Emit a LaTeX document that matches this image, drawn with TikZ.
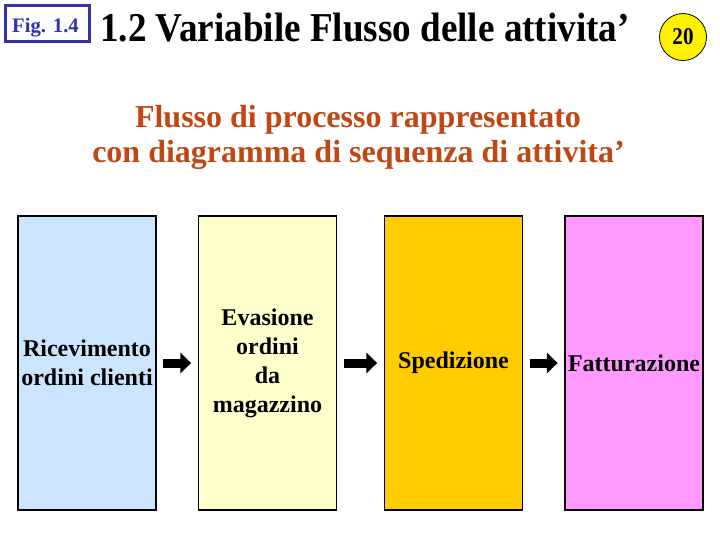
\documentclass[tikz,border=0pt]{standalone}
\usepackage{fontspec}
\setmainfont{Liberation Serif}
\newfontfamily\narrowfont[FakeStretch=0.88]{Liberation Serif}
\newfontfamily\titlefont[FakeStretch=0.905]{Liberation Serif}
\usepackage{xcolor}
\usepackage{tikz}
\usetikzlibrary{arrows.meta}
\definecolor{figblue}{RGB}{51,51,170}
\definecolor{subred}{RGB}{192,70,20}
\definecolor{boxblue}{RGB}{204,229,255}
\definecolor{boxcream}{RGB}{255,255,204}
\definecolor{boxgold}{RGB}{255,204,0}
\definecolor{boxpink}{RGB}{255,153,255}
\begin{document}
\begin{tikzpicture}[x=0.75pt,y=-0.75pt,
	stepbox/.style={draw=black,line width=1.1pt,minimum width=103.5pt,minimum height=220.5pt,inner sep=0pt,align=center,font=\fontsize{18}{21.75}\selectfont\bfseries},
	blockarrow/.style={-{Triangle[length=8pt,width=15pt]},line width=6.75pt,shorten <=5pt,shorten >=5pt}]
		\useasboundingbox (0,0) rectangle (720,540);
		% header
		\draw[figblue,line width=2.25pt] (5.5,5.5) rectangle (89.5,41.5);
		\node[anchor=base,inner sep=0pt,text=figblue,font=\fontsize{15.5}{16}\selectfont\bfseries] (fig) at (45.5,32) {Fig. 1.4};
		\node[anchor=base,font=\titlefont\fontsize{30.75}{32}\selectfont\bfseries] (title) at (365,41) {1.2 Variabile Flusso delle attivita’};
		\node[circle,draw=black,fill=yellow,line width=0.6pt,minimum size=35.25pt,inner sep=0pt,font=\narrowfont\fontsize{18}{18}\selectfont\bfseries] (page) at (683,37) {20};
		\node[anchor=base,text=subred,font=\fontsize{24}{26}\selectfont\bfseries] (sub1) at (358,127) {Flusso di processo rappresentato};
		\node[anchor=base,text=subred,font=\fontsize{24}{26}\selectfont\bfseries] (sub2) at (358.5,162.5) {con diagramma di sequenza di attivita’};
		% activities
		\node[stepbox,fill=boxblue] (ricevimento) at (87,363) {Ricevimento\\ordini clienti};
		\node[stepbox,fill=boxcream] (evasione) at (267.5,363) {Evasione\\ordini\\da\\magazzino};
		\node[stepbox,fill=boxgold] (spedizione) at (453.5,363) {Spedizione};
		\node[stepbox,fill=boxpink] (fatturazione) at (634,363) {Fatturazione};
		\draw[blockarrow] (ricevimento) -- (evasione);
		\draw[blockarrow] (evasione) -- (spedizione);
		\draw[blockarrow] (spedizione) -- (fatturazione);
	\end{tikzpicture}
\end{document}
